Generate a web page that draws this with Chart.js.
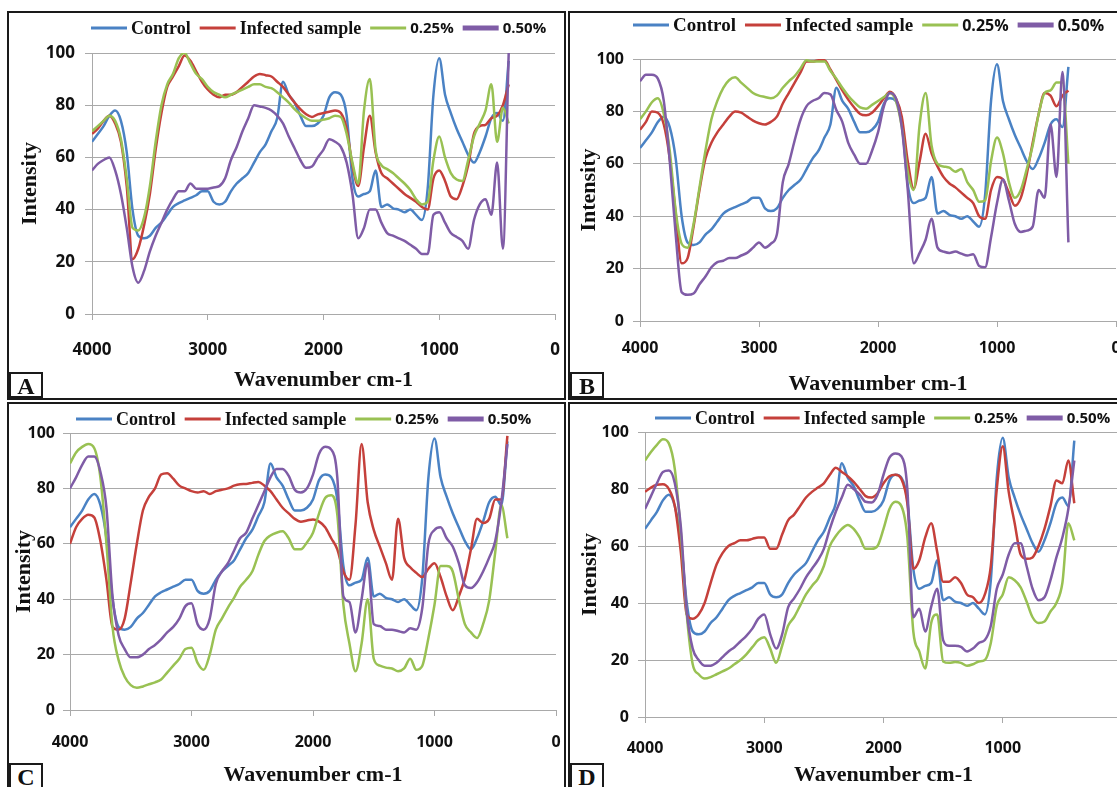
<!DOCTYPE html>
<html>
<head>
<meta charset="utf-8">
<script src="https://cdn.jsdelivr.net/npm/chart.js@4.4.1/dist/chart.umd.min.js"></script>
<style>
  body { margin: 0; width: 1117px; height: 787px; overflow: hidden; background: #fff; position: relative; }
  .panel { position: absolute; border: 2px solid #1a1a1a; background: #fff; }
  .panel canvas { position: absolute; left: 0; top: 0; }
  .tag { position: absolute; left: 0; top: 359px; width: 30px; height: 22px; border: 2px solid #1a1a1a;
         font: bold 24px "Liberation Serif", serif; line-height: 24px; text-align: center; color: #111; background: #fff; }
</style>
</head>
<body>
<script>
// FTIR spectra, every 50 cm-1
const wavenumbers = [4000, 3950, 3900, 3850, 3800, 3750, 3700, 3650, 3600, 3550,
  3500, 3450, 3400, 3350, 3300, 3250, 3200, 3150, 3100, 3050,
  3000, 2950, 2900, 2850, 2800, 2750, 2700, 2650, 2600, 2550,
  2500, 2450, 2400, 2350, 2300, 2250, 2200, 2150, 2100, 2050,
  2000, 1950, 1900, 1850, 1800, 1750, 1700, 1650, 1600, 1550,
  1500, 1450, 1400, 1350, 1300, 1250, 1200, 1150, 1100, 1050,
  1000, 950, 900, 850, 800, 750, 700, 650, 600, 550,
  500, 450, 400];

const seriesNames = ["Control", "Infected sample", "0.25%", "0.50%"];
const xTicks = [4000, 3000, 2000, 1000, 0];
const yTicks = [0, 20, 40, 60, 80, 100];

// same control spectrum in all four panels
const control = [66, 69, 72, 76, 78, 74, 62, 40, 30, 29,
  30, 33, 35, 38, 41, 42.5, 43.5, 44.5, 45.5, 47,
  47, 43, 42, 43, 47, 50, 52, 54, 58, 62,
  65, 70, 75, 89, 84, 81, 76, 72, 72, 73,
  76, 83, 85, 84, 76, 52, 45, 46, 47, 55,
  41, 42, 40.5, 40, 39, 40, 38, 36, 48, 84,
  98, 84, 77, 71, 66, 61, 58, 62, 68, 75,
  77, 74, 97];

// panel A
const infectedA = [69, 71, 74, 76, 73, 66, 49, 21, 25, 34,
  46, 63, 77, 87, 91, 95, 99, 97, 93, 89,
  86, 84, 83, 84, 84, 85, 87, 89, 91, 92,
  91.5, 91, 89, 87, 84, 81, 78.5, 76.5, 75.5, 76.5,
  77, 77.5, 78, 77, 71, 57, 49, 64, 76, 62,
  54, 52, 50, 48, 46, 44.5, 43, 41, 40, 52,
  55, 51, 45, 44, 49, 57, 69, 72, 72.5, 75,
  76, 80, 88];
const pct25A = [70, 72, 74, 76, 74, 67, 52, 33, 32, 37,
  49, 66, 80, 88, 92, 98, 100, 96, 92, 90,
  87, 85, 84, 83, 84, 85, 86, 87, 88, 88,
  87, 86.5, 85, 83, 81, 78.5, 76.5, 75, 74, 74,
  74.5, 75, 76, 75.5, 69, 58, 50, 78, 90, 63,
  57, 55.5, 54, 52, 50, 47.5, 44, 42, 43, 59,
  68, 60, 54, 51.5, 51, 59, 68, 73, 78, 88,
  66, 79, 73];
const pct50A = [55, 57.5, 59, 60, 55, 46, 33, 18, 12, 16.5,
  24, 30, 35, 40, 44, 47, 47, 50, 48, 48,
  48, 48.5, 49, 52, 59, 64, 70, 75, 80, 79.5,
  79, 78, 76, 73, 68, 63.5, 59, 56, 56.5, 60,
  63, 67, 66, 64, 58, 46, 29, 33, 40, 40,
  35, 31, 30, 29, 28, 26.5, 25, 23, 23, 38,
  39, 35, 31, 29.5, 28, 25, 36, 42, 44, 38,
  58, 25, 100];

// panel B
const infectedB = [73, 76, 80, 79.5, 75, 62, 41, 22, 24, 36,
  50, 62, 68, 72, 75, 78, 80, 79.5, 78, 76.5,
  75.5, 75, 76, 78, 83, 87, 91, 95, 99, 99,
  99.5, 99.5, 96, 92, 88, 84.5, 81.5, 79, 78.5, 79.5,
  82, 85, 87.5, 85, 78, 61, 50.5, 61, 71.5, 64,
  59, 55, 52.5, 51, 49, 47, 45, 40, 39, 50,
  55, 54, 49, 44, 47, 56, 68, 79, 87, 86,
  82, 86, 88];
const pct25B = [77, 80, 83.5, 85, 79, 65, 42, 29.5, 28, 37,
  51, 65, 77, 84, 89, 92, 93, 91, 89, 87,
  86, 85.5, 85, 86, 89, 91.5, 93.5, 96.5, 99.5, 99,
  99, 99, 95.5, 92.5, 89, 86, 83.5, 81.5, 81, 82.5,
  84, 85.5, 87, 84, 74, 57, 50, 75, 87, 67,
  60, 59, 58.5, 57, 58, 53, 50, 45.5, 46, 61,
  70, 64, 53, 47, 50, 58, 67, 79, 87, 88,
  91, 91, 60];
const pct50B = [91.5, 94, 94, 92.5, 84, 61, 33, 11, 10, 10.5,
  14, 17, 20.5, 22.5, 23, 24, 24, 25, 26, 28,
  30, 28, 29.5, 33, 53, 60, 69, 77, 82, 84,
  85, 87, 86.5, 80.5, 76, 68, 63.5, 60, 60, 65,
  72, 82, 87, 85, 74, 50, 22, 26, 31, 39,
  28, 26.5, 26, 26.5, 25.7, 25, 25.5, 21, 20.5, 32,
  45, 54, 46, 37, 34, 34.5, 36, 50, 47, 75,
  55, 95, 30];

// panel C
const infectedC = [60, 66, 69, 70.5, 69.5, 61, 47, 30, 29, 33,
  46, 60, 72, 77, 80, 85, 85.5, 83.5, 81, 80,
  79, 78.5, 79, 78, 79, 79.5, 80, 81, 81.5, 81.6,
  82, 82.3, 81, 79, 76, 73, 71, 69, 68, 68.4,
  68.8, 68, 66, 62, 58, 50, 47, 67, 96, 75,
  65, 59, 53, 47, 69, 55, 51.5, 49.5, 48, 51,
  53, 48, 41, 36, 41, 47.5, 58, 69, 67.5, 69,
  76, 76, 99];
const pct25C = [89, 93, 95, 96, 94.5, 84, 60, 30, 18, 12,
  9, 8, 8.5, 9.3, 10, 11, 13.5, 16, 18.5, 22,
  22.5, 17, 14.5, 20, 29, 33, 37, 40.5, 44.5, 47,
  50, 56, 61, 63, 64, 64.5, 62, 58, 58, 60.5,
  64, 71, 76.5, 77.5, 70.5, 38, 24, 14, 24, 40,
  18.5, 16, 15.3, 15, 14, 15, 18.5, 14.5, 16, 26,
  38, 52, 52, 50, 40, 31, 28, 26, 31, 39.5,
  57, 74, 62];
const pct50C = [80, 84, 88.5, 91.5, 91.5, 86, 73, 41, 27, 22,
  19, 19, 20, 22, 23.5, 25.5, 28, 30, 33, 37.5,
  38.5, 31, 29, 33, 45.5, 50, 53, 57.5, 62, 64,
  69, 74, 79, 84, 87, 87, 84.5, 79.5, 78.5, 80,
  85, 92.5, 95, 94, 84, 41, 39, 28, 40, 53,
  31, 30.3, 29, 29, 28.5, 28, 29.5, 29, 37, 60,
  65, 66, 62, 59, 53, 45, 44, 46, 50, 55,
  61, 75, 96];

// panel D
const infectedD = [79, 80.5, 81.5, 81.7, 80, 74, 58, 36, 34.5, 36,
  40, 47, 53.5, 57.5, 60, 61, 62, 62, 62.5, 63,
  63, 59, 59, 64, 69, 71, 74, 77, 79, 80.5,
  82, 85, 87.5, 86, 84.5, 82.5, 80, 77.5, 77, 78.5,
  82, 84.5, 85, 83.5, 75, 52, 55, 63, 68, 58,
  47.5, 47.5, 49, 47, 43, 42, 40, 43, 53, 80,
  95, 79, 68, 57, 55.5, 56, 60, 66, 74, 83,
  82, 90, 75];
const pct25D = [90, 93, 95.5, 97.5, 96, 87, 65, 36, 18.5, 15,
  13.5, 14, 15, 16, 17, 18.5, 20, 22, 24.5, 27,
  28, 24, 19, 25, 32, 35, 39, 43, 46, 48.5,
  53, 60, 63.5, 66, 67.4, 66, 63, 59, 59, 60,
  66, 73, 75.5, 74, 63, 30, 23, 17, 33, 36,
  19.5, 19, 19.3, 19, 18, 18.5, 19.5, 20, 26, 39,
  43, 49, 48, 45.5, 40.5, 35, 33, 33.5, 37, 40,
  47, 68, 62];
const pct50D = [73, 77.5, 82, 86, 86.5, 82, 67, 37, 24, 20,
  18, 18, 19, 21, 23, 24.5, 26.5, 28.5, 31, 34.5,
  36, 29, 24, 29, 38.5, 41.6, 45, 49, 52, 55,
  59, 66, 72, 77, 81.5, 80, 78, 75.5, 75.3, 78,
  85, 91, 92.5, 91.5, 80, 35, 38, 30, 38.7, 45,
  27, 25, 25, 24.6, 23, 24, 26, 27, 32, 45,
  50, 57, 61, 61, 53, 45, 41, 42, 48, 56,
  63, 73, 90];

const colors = ["#4a82c4", "#c5403b", "#99c153", "#7f5ca6"];
const gridGrey = "#a9a9a9";

// legend drawn by hand so the names can mix serif and sans like the original
const lineLegend = {
  id: "lineLegend",
  afterDraw(chart, args, opts) {
    const ctx = chart.ctx;
    let x = opts.x;
    ctx.save();
    ctx.textBaseline = "middle";
    ctx.textAlign = "left";
    chart.data.datasets.forEach((ds, i) => {
      ctx.strokeStyle = ds.borderColor;
      ctx.lineWidth = i === 3 ? 5 : 3;
      ctx.beginPath();
      ctx.moveTo(x, opts.y);
      ctx.lineTo(x + 36, opts.y);
      ctx.stroke();
      x += 40;
      ctx.font = i < 2 ? `bold ${opts.serif}px "Liberation Serif"` : `bold ${opts.sans}px "Open Sans"`;
      ctx.fillStyle = "#111";
      ctx.fillText(ds.label, x, opts.y + 1);
      x += ctx.measureText(ds.label).width + 9;
    });
    ctx.restore();
  },
};

const panels = [
  { tag: "A", left: 7, top: 11, w: 555, padTop: 40, padRight: 9, yW: 83, xH: 84, yTickPad: 10, xTickPad: 20,
    yTitlePad: 8, xTitlePad: 4, tick: 17, legX: 82, legY: 15, serif: 18, sans: 15,
    series: [control, infectedA, pct25A, pct50A] },
  { tag: "B", left: 568, top: 11, w: 560, padTop: 46, padRight: 14, yW: 70, xH: 77, yTickPad: 9, xTickPad: 12,
    yTitlePad: 6, xTitlePad: 0, tick: 16, legX: 63, legY: 12, serif: 19, sans: 16,
    series: [control, infectedB, pct25B, pct50B] },
  { tag: "C", left: 7, top: 402, w: 555, padTop: 29, padRight: 8, yW: 61, xH: 79, yTickPad: 8, xTickPad: 17,
    yTitlePad: 2, xTitlePad: 0, tick: 16, legX: 67, legY: 15, serif: 18, sans: 15,
    series: [control, infectedC, pct25C, pct50C] },
  { tag: "D", left: 568, top: 402, w: 560, padTop: 28, padRight: 8, yW: 75, xH: 72, yTickPad: 9, xTickPad: 16,
    yTitlePad: 7, xTitlePad: 0, tick: 16, legX: 85, legY: 14, serif: 18, sans: 15,
    series: [control, infectedD, pct25D, pct50D] },
];

const H = 385;

panels.forEach((p) => {
  const box = document.createElement("div");
  box.className = "panel";
  box.style.left = p.left + "px";
  box.style.top = p.top + "px";
  box.style.width = p.w + "px";
  box.style.height = H + "px";
  const canvas = document.createElement("canvas");
  canvas.width = p.w;
  canvas.height = H;
  box.appendChild(canvas);
  const tag = document.createElement("div");
  tag.className = "tag";
  tag.textContent = p.tag;
  box.appendChild(tag);
  document.body.appendChild(box);

  const tickFont = { family: "Open Sans", weight: "bold", size: p.tick };
  const titleFont = { family: "Liberation Serif", weight: "bold", size: 22 };

  new Chart(canvas, {
    type: "line",
    data: {
      datasets: p.series.map((vals, i) => ({
        label: seriesNames[i],
        data: vals.map((v, k) => ({ x: wavenumbers[k], y: v })),
        borderColor: colors[i],
        borderWidth: 2.5,
        pointRadius: 0,
        cubicInterpolationMode: "monotone",
        order: 3 - i,
      })),
    },
    options: {
      responsive: false,
      animation: false,
      layout: { padding: { left: 0, top: p.padTop, right: p.padRight, bottom: 0 } },
      plugins: {
        legend: { display: false },
        tooltip: { enabled: false },
        lineLegend: { x: p.legX, y: p.legY, serif: p.serif, sans: p.sans },
      },
      scales: {
        x: {
          type: "linear",
          reverse: true,
          min: 0,
          max: 4000,
          afterBuildTicks: (s) => { s.ticks = xTicks.map((v) => ({ value: v })); },
          // fixed band height; the label padding should not eat into the plot width
          afterFit: (s) => { s.height = p.xH; s.paddingLeft = 0; s.paddingRight = 0; },
          ticks: { padding: p.xTickPad, color: "#111", font: tickFont, maxRotation: 0, callback: (v) => String(v) },
          grid: { drawOnChartArea: false, tickLength: 6, color: gridGrey },
          border: { color: gridGrey },
          title: { display: true, text: "Wavenumber cm-1", color: "#111", font: titleFont,
                   padding: { top: 0, bottom: p.xTitlePad } },
        },
        y: {
          min: 0,
          max: 100,
          afterBuildTicks: (s) => { s.ticks = yTicks.map((v) => ({ value: v })); },
          afterFit: (s) => { s.width = p.yW; },
          ticks: { padding: p.yTickPad, color: "#111", font: tickFont },
          grid: { color: gridGrey, tickLength: 7 },
          border: { color: gridGrey },
          title: { display: true, text: "Intensity", color: "#111", font: titleFont,
                   padding: { top: p.yTitlePad, bottom: 0 } },
        },
      },
    },
    plugins: [lineLegend],
  });
});
</script>
</body>
</html>
